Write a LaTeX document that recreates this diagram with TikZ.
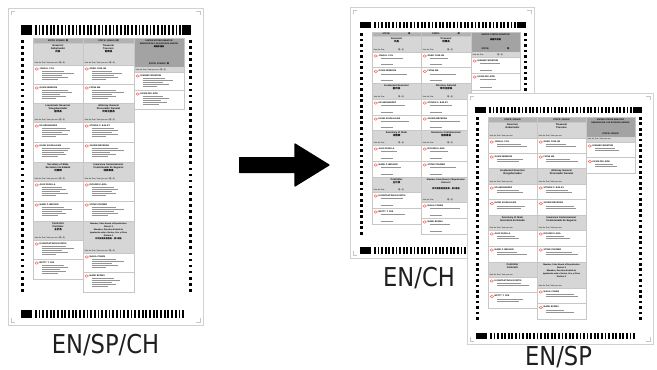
\documentclass[tikz,border=0pt]{standalone}
\usepackage{fontspec}
\setmainfont{Liberation Sans}
\newfontfamily\cjk{Noto Sans CJK TC}
\newfontfamily\labfont[FakeStretch=0.87]{DejaVu Sans}
\usetikzlibrary{calc}
\newcounter{tc}
\tikzset{
  pageedge/.style={draw=black!18, line width=0.6pt, fill=white},
  cornerm/.style={draw=black!22, line width=0.5pt},
  secgray/.style={fill=black!16},
  stategray/.style={fill=black!30},
  sengray/.style={fill=black!36},
  boxline/.style={draw=black!22, line width=0.4pt},
  ovalc/.style={draw=red!65!white, line width=0.45pt},
  detail/.style={draw=black!42, line width=0.55pt},
  ctitle/.style={inner sep=0, align=center, font=\fontsize{2.5}{3}\selectfont\bfseries},
  vtxt/.style={inner sep=0, font=\fontsize{1.9}{2.2}\selectfont},
  ntxt/.style={inner sep=0, font=\fontsize{2.2}{2.5}\selectfont\bfseries},
  stxt/.style={inner sep=0, font=\fontsize{2.2}{2.5}\selectfont\bfseries},
  lab/.style={inner sep=0, font=\labfont\fontsize{26}{30}\selectfont, text=black!88},
  arrowshape/.style={fill=black, draw=black, line width=1.2pt, line join=round}
}
% page with shadow and corner marks
\newcommand\bpage[4]{%
  \fill[black!8] (#1+1.2,#2+1.2) rectangle (#3+1.2,#4+1.2);
  \draw[pageedge] (#1,#2) rectangle (#3,#4);
  \draw[cornerm] (#1+3,#2+7) -- (#1+3,#2+3) -- (#1+7,#2+3);
  \draw[cornerm] (#3-3,#2+7) -- (#3-3,#2+3) -- (#3-7,#2+3);
  \draw[cornerm] (#1+3,#4-7) -- (#1+3,#4-3) -- (#1+7,#4-3);
  \draw[cornerm] (#3-3,#4-7) -- (#3-3,#4-3) -- (#3-7,#4-3);
}
\newcommand\topcode[4]{%
  \fill (#1,#3) rectangle (#1+11,#4);
  \fill (#2-9,#3) rectangle (#2,#4);
  \foreach \i in {0,...,39}{\fill ({#1+14+\i*(#2-#1-25.8)/39},#3) rectangle ++(1.8,#4-#3);}
}
\newcommand\botcode[4]{%
  \fill (#1,#3) rectangle (#1+11,#4);
  \foreach \i in {0,...,40}{\fill ({#1+14+\i*(#2-#1-15.8)/40},#3) rectangle ++(1.8,#4-#3);}
}
\newcommand\tmarks[5]{%
  \foreach \i in {0,...,#5}{%
    \fill (#1,{#3+\i*(#4-#3)/#5}) rectangle ++(2.7,2.7);
    \fill (#2,{#3+\i*(#4-#3)/#5}) rectangle ++(2.7,2.7);}
}
\newcommand\statebar[5]{%
  \fill[stategray] (#1,#3) rectangle (#2,#4);
  \draw[boxline] (#1,#3) rectangle (#2,#4);
  \stepcounter{tc}\node[stxt] (t\arabic{tc}) at ({(#1+#2)/2},{(#3+#4)/2}) {#5};
}
\newcommand\contest[7][]{%
  \fill[secgray] (#2,#4) rectangle (#3,#5);
  \draw[boxline] (#2,#4) rectangle (#3,#5);
  \stepcounter{tc}\node[ctitle,anchor=north,#1] (t\arabic{tc}) at ({(#2+#3)/2},#4+1.3) {#6};
  \stepcounter{tc}\node[vtxt,anchor=south west] (t\arabic{tc}) at (#2+1.5,#5-1) {#7};
}
\newcommand\cand[7]{%
  \draw[boxline,fill=white] (#1,#3) rectangle (#2,#4);
  \draw[ovalc] (#1+3.8,#3+4) ellipse (1.7 and 1.3);
  \stepcounter{tc}\node[ntxt,anchor=west] (t\arabic{tc}) at (#1+6.5,#3+3.7) {#5};
  \foreach \L [count=\k] in {#6}{\draw[detail] (#1+8.5,{#3+4.6+\k*1.9}) -- ++(\L,0);}
  \ifnum#7>0 \draw[detail] (#1+8.5,#4-3) -- ++(#7,0);\fi
}
\newcommand\senhdr[9]{%
  \fill[sengray] (#1,#3) rectangle (#2,#4);
  \fill[secgray] (#1,#4) rectangle (#2,#5);
  \draw[boxline] (#1,#3) rectangle (#2,#5);
  \stepcounter{tc}\node[ctitle,anchor=north,#9] (t\arabic{tc}) at ({(#1+#2)/2},#3+2) {#6};
  \stepcounter{tc}\node[stxt] (t\arabic{tc}) at ({(#1+#2)/2},#4-3) {#7};
  \stepcounter{tc}\node[vtxt,anchor=west] (t\arabic{tc}) at (#1+1.5,{(#4+#5)/2}) {#8};
}
\newcommand\vtri{Vote for One / Vote por uno / {\cjk 選一名}}
\newcommand\vch{Vote for One\hspace{14pt}{\cjk 選一名}}
\newcommand\vsp{Vote for One / Vote por uno}
\begin{document}
\begin{tikzpicture}[x=1pt,y=-1pt]
\useasboundingbox (0,0) rectangle (657,370);
\fill[white] (0,0) rectangle (657,370);

% ================= EN/SP/CH ballot =================
\bpage{8}{8}{203}{325}
\topcode{21}{191}{25}{35}
\tmarks{21}{189}{40}{289}{41}
\botcode{21}{184}{310}{318}
\statebar{33}{83}{38}{43}{STATE: 2015AD / {\cjk 州}}
\statebar{83}{134}{38}{43}{STATE: 2015AD / {\cjk 州}}
\contest{33}{83}{43}{65}{Governor\\Gobernador\\{\cjk 州長}}{\vtri}
\cand{33}{83}{65}{84}{JOHN H. COX}{22,32,20,26,16}{0}
\cand{33}{83}{84}{103}{GAVIN NEWSOM}{26,30,18,24,14}{0}
\contest{33}{83}{103}{122}{Lieutenant Governor\\Vicegobernador\\{\cjk 副州長}}{\vtri}
\cand{33}{83}{122}{142}{ED HERNANDEZ}{24,28,20,26,14}{0}
\cand{33}{83}{142}{162}{ELENI KOUNALAKIS}{28,26,22,24,16}{0}
\contest{33}{83}{162}{181}{Secretary of State\\Secretario de Estado\\{\cjk 州務卿}}{\vtri}
\cand{33}{83}{181}{201}{ALEX PADILLA}{20,24,18,26,14}{0}
\cand{33}{83}{201}{221}{MARK P. MEUSER}{22,30,20,24,16}{0}
\contest{33}{83}{221}{240}{Controller\\Contralor\\{\cjk 主計長}}{\vtri}
\cand{33}{83}{240}{259}{KONSTANTINOS RODITIS}{24,32,20,26,14}{0}
\cand{33}{83}{259}{279}{BETTY T. YEE}{22,26,18,24,16}{0}
\contest{83}{134}{43}{65}{Treasurer\\Tesorero\\{\cjk 財務長}}{\vtri}
\cand{83}{134}{65}{84}{GREG CONLON}{20,30,22,26,14}{0}
\cand{83}{134}{84}{103}{FIONA MA}{24,32,20,24,16}{0}
\contest{83}{134}{103}{122}{Attorney General\\Procurador General\\{\cjk 州司法部長}}{\vtri}
\cand{83}{134}{122}{142}{STEVEN C. BAILEY}{22,26,20,26,14}{0}
\cand{83}{134}{142}{162}{XAVIER BECERRA}{26,32,18,24,16}{0}
\contest{83}{134}{162}{181}{Insurance Commissioner\\Comisionado de Seguros\\{\cjk 保險專員}}{\vtri}
\cand{83}{134}{181}{201}{RICARDO LARA}{22,26,20,24,14}{0}
\cand{83}{134}{201}{221}{STEVE POIZNER}{24,32,22,26,16}{0}
\contest[font=\fontsize{2.1}{3}\selectfont\bfseries]{83}{134}{221}{253}{Member, State Board of Equalization\\District 2\\Miembro, Directiva Estatal de\\Igualación sobre Ventas, Uso y Otras\\Distrito 2\\{\cjk 州平衡委員會委員，第2選區}}{\vtri}
\cand{83}{134}{253}{272}{MALIA COHEN}{24,32,20,26,14}{0}
\cand{83}{134}{272}{292}{MARK BURNS}{22,28,20,24,16}{0}
\senhdr{134}{184}{38}{67}{72}{UNITED STATES SENATOR\\SENADOR DE LOS ESTADOS UNIDOS\\{\cjk 美國參議員}}{STATE: 2015AD / {\cjk 州}}{\vtri}{font=\fontsize{2.1}{3}\selectfont\bfseries}
\cand{134}{184}{72}{90}{DIANNE FEINSTEIN}{22,30,20,26,14}{0}
\cand{134}{184}{90}{109}{KEVIN DE LEÓN}{20,26,18,24,16}{0}

% ================= arrow =================
\coordinate (aS) at (239,165);
\coordinate (aE) at (329,165);
\fill[arrowshape] ($(aS)+(0.6,-7.4)$) -- ($(aE)+(-34,-7.4)$) -- ($(aE)+(-34,-21)$) -- (aE)
  -- ($(aE)+(-34,21)$) -- ($(aE)+(-34,7.4)$) -- ($(aS)+(0.6,7.4)$) -- cycle;

% ================= EN/CH ballot =================
\bpage{350}{7}{534}{258}
\topcode{360}{526}{22}{28}
\tmarks{360}{524}{33}{232}{36}
\botcode{360}{520}{247}{254}
\statebar{372}{421}{32}{36}{STATE:\hspace{18pt}{\cjk 州}}
\statebar{421}{471}{32}{36}{STATE:\hspace{18pt}{\cjk 州}}
\contest{372}{421}{36}{52}{Governor\\{\cjk 州長}}{\vch}
\cand{372}{421}{52}{67.5}{JOHN H. COX}{22}{12}
\cand{372}{421}{67.5}{83}{GAVIN NEWSOM}{26}{12}
\contest{372}{421}{83}{99}{Lieutenant Governor\\{\cjk 副州長}}{\vch}
\cand{372}{421}{99}{115}{ED HERNANDEZ}{24}{12}
\cand{372}{421}{115}{130}{ELENI KOUNALAKIS}{28}{12}
\contest{372}{421}{130}{145}{Secretary of State\\{\cjk 州務卿}}{\vch}
\cand{372}{421}{145}{161}{ALEX PADILLA}{16}{12}
\cand{372}{421}{161}{177}{MARK P. MEUSER}{20}{12}
\contest{372}{421}{177}{192}{Controller\\{\cjk 主計長}}{\vch}
\cand{372}{421}{192}{208}{KONSTANTINOS RODITIS}{22}{12}
\cand{372}{421}{208}{224}{BETTY T. YEE}{24}{12}
\contest{421}{471}{36}{52}{Treasurer\\{\cjk 財務長}}{\vch}
\cand{421}{471}{52}{67.5}{GREG CONLON}{18}{12}
\cand{421}{471}{67.5}{83}{FIONA MA}{26}{12}
\contest{421}{471}{83}{99}{Attorney General\\{\cjk 州司法部長}}{\vch}
\cand{421}{471}{99}{115}{STEVEN C. BAILEY}{22}{12}
\cand{421}{471}{115}{130}{XAVIER BECERRA}{30}{12}
\contest{421}{471}{130}{145}{Insurance Commissioner\\{\cjk 保險專員}}{\vch}
\cand{421}{471}{145}{161}{RICARDO LARA}{18}{12}
\cand{421}{471}{161}{177}{STEVE POIZNER}{26}{12}
\contest[font=\fontsize{2.2}{3}\selectfont\bfseries]{421}{471}{177}{202}{Member, State Board of Equalization\\District 2\\[3pt]{\cjk 州平衡委員會委員，第2選區}}{\vch}
\cand{421}{471}{202}{218}{MALIA COHEN}{30}{12}
\cand{421}{471}{218}{234}{MARK BURNS}{20}{12}
\senhdr{471}{520}{32}{52}{57}{UNITED STATES SENATOR\\[2pt]{\cjk 美國參議員}}{STATE:\hspace{18pt}{\cjk 州}}{\vch}{font=\fontsize{2.2}{3}\selectfont\bfseries}
\cand{471}{520}{57}{73}{DIANNE FEINSTEIN}{20}{12}
\cand{471}{520}{73}{90}{KEVIN DE LEÓN}{16}{12}

% ================= EN/SP ballot =================
\bpage{467}{93}{653}{344}
\topcode{475}{642}{107}{113}
\tmarks{476}{639}{117}{317}{37}
\botcode{476}{635}{333}{339}
\statebar{488}{537}{117}{122}{STATE: 2015AD}
\statebar{537}{586}{117}{122}{STATE: 2015AD}
\contest{488}{537}{122}{138}{Governor\\Gobernador}{\vsp}
\cand{488}{537}{138}{153}{JOHN H. COX}{24,30}{0}
\cand{488}{537}{153}{168}{GAVIN NEWSOM}{26,22}{0}
\contest{488}{537}{168}{184}{Lieutenant Governor\\Vicegobernador}{\vsp}
\cand{488}{537}{184}{199.5}{ED HERNANDEZ}{22,26}{0}
\cand{488}{537}{199.5}{215}{ELENI KOUNALAKIS}{28,24}{0}
\contest{488}{537}{215}{230}{Secretary of State\\Secretario de Estado}{\vsp}
\cand{488}{537}{230}{246}{ALEX PADILLA}{18,22}{0}
\cand{488}{537}{246}{262}{MARK P. MEUSER}{20,30}{0}
\contest{488}{537}{262}{277}{Controller\\Contralor}{\vsp}
\cand{488}{537}{277}{292.5}{KONSTANTINOS RODITIS}{24,32}{0}
\cand{488}{537}{292.5}{308}{BETTY T. YEE}{26,22}{0}
\contest{537}{586}{122}{138}{Treasurer\\Tesorero}{\vsp}
\cand{537}{586}{138}{153}{GREG CONLON}{20,30}{0}
\cand{537}{586}{153}{168}{FIONA MA}{24,32}{0}
\contest{537}{586}{168}{184}{Attorney General\\Procurador General}{\vsp}
\cand{537}{586}{184}{199.5}{STEVEN C. BAILEY}{22,26}{0}
\cand{537}{586}{199.5}{215}{XAVIER BECERRA}{28,30}{0}
\contest{537}{586}{215}{230}{Insurance Commissioner\\Comisionado de Seguros}{\vsp}
\cand{537}{586}{230}{246}{RICARDO LARA}{18,24}{0}
\cand{537}{586}{246}{262}{STEVE POIZNER}{26,32}{0}
\contest[font=\fontsize{2.1}{3}\selectfont\bfseries]{537}{586}{262}{288}{Member, State Board of Equalization\\District 2\\Miembro, Directiva Estatal de\\Igualación sobre Ventas, Uso y Otras\\Distrito 2}{\vsp}
\cand{537}{586}{288}{303.5}{MALIA COHEN}{28,32}{0}
\cand{537}{586}{303.5}{319}{MARK BURNS}{18,28}{0}
\senhdr{586}{635}{117}{137}{142}{UNITED STATES SENATOR\\SENADOR DE LOS ESTADOS UNIDOS}{STATE: 2015AD}{\vsp}{font=\fontsize{2.1}{3}\selectfont\bfseries}
\cand{586}{635}{142}{157.5}{DIANNE FEINSTEIN}{20,24}{0}
\cand{586}{635}{157.5}{173}{KEVIN DE LEÓN}{18,22}{0}

% ================= labels =================
\node[lab, anchor=base] (l1) at (105.5,353) {EN/SP/CH};
\node[lab, anchor=base] (l2) at (419,286) {EN/CH};
\node[lab, anchor=base] (l3) at (558.5,365) {EN/SP};
\end{tikzpicture}
\end{document}
